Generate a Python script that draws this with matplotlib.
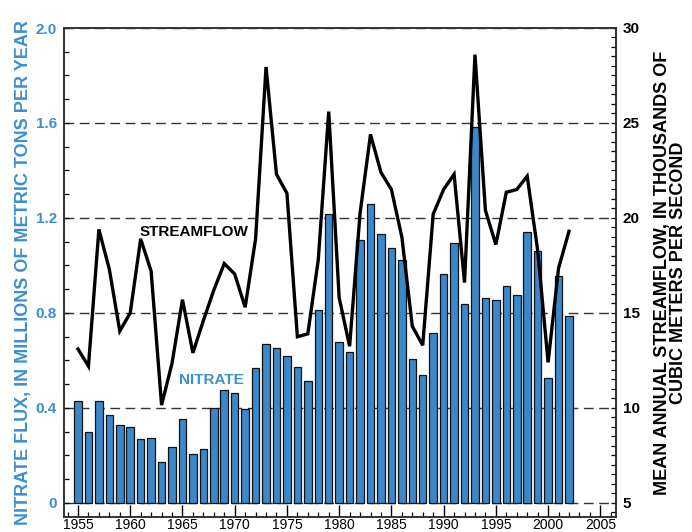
import matplotlib
matplotlib.use("Agg")
import matplotlib.pyplot as plt
from matplotlib.ticker import MultipleLocator, FixedLocator
import numpy as np

plt.rcParams['font.family'] = ['Liberation Sans', 'DejaVu Sans']

years = list(range(1955, 2003))
nitrate = [0.43, 0.30, 0.43, 0.37, 0.33, 0.32, 0.27, 0.275, 0.174, 0.237,
           0.354, 0.205, 0.228, 0.40, 0.476, 0.462, 0.394, 0.567, 0.669, 0.651,
           0.619, 0.574, 0.512, 0.811, 1.217, 0.679, 0.637, 1.106, 1.258, 1.131,
           1.075, 1.022, 0.606, 0.539, 0.714, 0.964, 1.096, 0.837, 1.582, 0.862,
           0.855, 0.912, 0.877, 1.14, 1.06, 0.525, 0.956, 0.786]
streamflow = [13.1, 12.2, 19.4, 17.3, 14.05, 15.0, 18.9, 17.2, 10.15, 12.35,
              15.7, 12.9, 14.6, 16.2, 17.6, 17.05, 15.3, 18.9, 27.95, 22.3,
              21.3, 13.75, 13.9, 17.8, 25.6, 15.8, 13.25, 20.25, 24.4, 22.4,
              21.5, 19.0, 14.3, 13.3, 20.2, 21.5, 22.3, 16.6, 28.6, 20.4,
              18.6, 21.35, 21.5, 22.2, 18.3, 12.4, 17.35, 19.3]

x_ticks = [1955, 1960, 1965, 1970, 1975, 1980, 1985, 1990, 1995, 2000, 2005]
left_ticks = [0, 0.4, 0.8, 1.2, 1.6, 2.0]
left_labels = ['0', '0.4', '0.8', '1.2', '1.6', '2.0']
right_ticks = [5, 10, 15, 20, 25, 30]

blue = '#3a87c9'
label_blue = '#3b8fd2'

fig = plt.figure(figsize=(6.92, 5.32), dpi=100)
ax = fig.add_axes([64/692, 15/532, (616-64)/692, (517-28)/532])
ax2 = ax.twinx()

ax.set_xlim(1953.66, 2006.5)
ax.set_ylim(-0.059, 2.0)
ax2.set_ylim(4.26, 30)

for v in left_ticks:
    ax.axhline(v, color='#333333', lw=1.0, ls=(0, (7, 4)), zorder=0.5)

ax.bar(years, nitrate, width=0.72, color=blue, edgecolor='#111111',
       linewidth=0.9, zorder=2)
ax2.plot(years, streamflow, color='black', lw=2.4, zorder=3,
         solid_joinstyle='miter')

ax.text(1966.1, 1.141, 'STREAMFLOW', fontsize=11, fontweight='bold',
        color='black', ha='center', va='center', zorder=4)
ax.text(1967.8, 0.518, 'NITRATE', fontsize=11, fontweight='bold',
        color=label_blue, ha='center', va='center', zorder=4)

ax.xaxis.set_major_locator(FixedLocator(x_ticks))
ax.xaxis.set_minor_locator(MultipleLocator(1))
ax.set_xticklabels([str(t) for t in x_ticks], fontsize=10)
ax.tick_params(axis='x', which='major', direction='in', length=9, width=1,
               pad=1, top=False)
ax.tick_params(axis='x', which='minor', direction='in', length=3.8, width=0.9,
               top=False)

ax.yaxis.set_major_locator(FixedLocator(left_ticks))
ax.yaxis.set_minor_locator(MultipleLocator(0.1))
ax.set_yticklabels(left_labels, fontsize=11, fontweight='bold', color=label_blue)
ax.tick_params(axis='y', which='both', direction='in', length=3.8, width=0.9,
               pad=5)

ax2.yaxis.set_major_locator(FixedLocator(right_ticks))
ax2.yaxis.set_minor_locator(MultipleLocator(0.5))
ax2.set_yticklabels([str(t) for t in right_ticks], fontsize=11,
                    fontweight='bold')
ax2.tick_params(axis='y', which='both', direction='in', length=3.8, width=0.9,
                pad=5)

ax.set_ylabel('NITRATE FLUX, IN MILLIONS OF METRIC TONS PER YEAR',
              fontsize=13, fontweight='bold', color=label_blue, labelpad=3)
ax2.set_ylabel('MEAN ANNUAL STREAMFLOW, IN THOUSANDS OF\nCUBIC METERS PER SECOND',
               fontsize=13, fontweight='bold', color='black', labelpad=10,
               rotation=90, linespacing=0.9)

for a in (ax, ax2):
    for s in a.spines.values():
        s.set_color('#333333')
        s.set_linewidth(1.2)

fig.savefig('out.png', dpi=100)
